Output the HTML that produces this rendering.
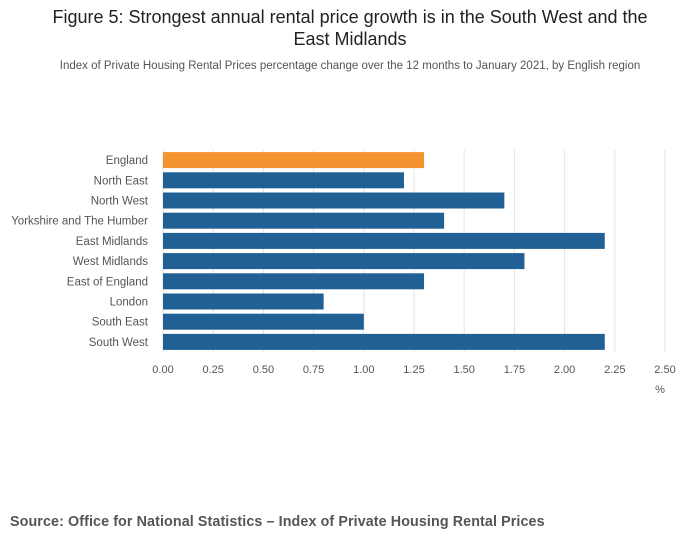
<!DOCTYPE html>
<html><head><meta charset="utf-8"><style>
body{margin:0;background:#fff;width:700px;height:549px;overflow:hidden;font-family:"Liberation Sans",sans-serif;}
</style></head><body>
<svg width="700" height="549">
<text x="350" y="23" text-anchor="middle" font-size="18" fill="#222">Figure 5: Strongest annual rental price growth is in the South West and the</text>
<text x="350" y="45" text-anchor="middle" font-size="18" fill="#222">East Midlands</text>
<text x="350" y="69" text-anchor="middle" font-size="11.5" fill="#555">Index of Private Housing Rental Prices percentage change over the 12 months to January 2021, by English region</text>
<g id="grid"></g><g id="bars"></g><g id="labels"></g>
<text x="660" y="393" text-anchor="middle" font-size="11" fill="#555">%</text>
<text x="10" y="526" font-size="14.3" letter-spacing="0.1" font-weight="bold" fill="#555">Source: Office for National Statistics – Index of Private Housing Rental Prices</text>
</svg>
<script>
const categories=["England","North East","North West","Yorkshire and The Humber","East Midlands","West Midlands","East of England","London","South East","South West"];
const values=[1.3,1.2,1.7,1.4,2.2,1.8,1.3,0.8,1.0,2.2];
const ticks=[0,0.25,0.5,0.75,1.0,1.25,1.5,1.75,2.0,2.25,2.5];
const NS="http://www.w3.org/2000/svg";
const x0=163,x1=665,xmax=2.5;
const xs=v=>x0+(x1-x0)*v/xmax;
const rowTop=150,rowH=20.2,barH=16;
const ys=i=>rowTop+i*rowH+(rowH-barH)/2;
function mk(t,a){const e=document.createElementNS(NS,t);for(const k in a)e.setAttribute(k,a[k]);return e;}
const g=document.getElementById('grid'),b=document.getElementById('bars'),l=document.getElementById('labels');
ticks.forEach(t=>{
 const ln=mk('line',{x1:xs(t),x2:xs(t),y1:150,y2:352,stroke:'#e3e3e3','stroke-width':1});
 
 
 g.appendChild(ln);
 const tx=mk('text',{x:xs(t),y:373,'text-anchor':'middle','font-size':11,fill:'#555'});
 tx.textContent=t.toFixed(2);
 
 
 l.appendChild(tx);
});
categories.forEach((c,i)=>{
 const r=mk('rect',{x:x0,y:ys(i),width:xs(values[i])-x0,height:barH,fill:i===0?'#f39431':'#206095'});
 
 
 b.appendChild(r);
 const tx=mk('text',{x:148,y:ys(i)+barH/2+4,'text-anchor':'end','font-size':11.5,fill:'#555'});
 tx.textContent=c;
 
 
 l.appendChild(tx);
});
</script>
</body></html>
